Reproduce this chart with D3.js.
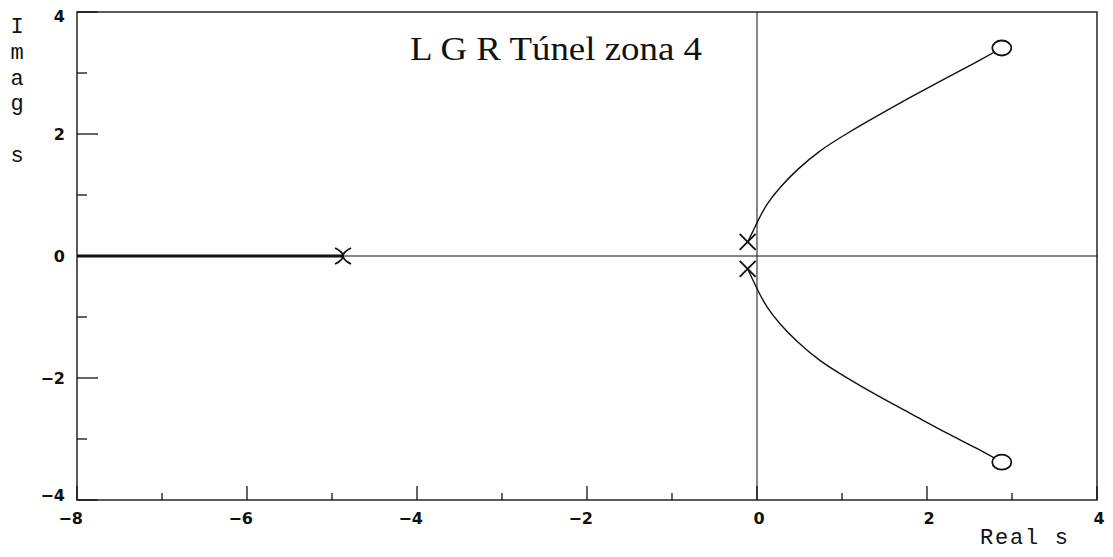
<!DOCTYPE html>
<html>
<head>
<meta charset="utf-8">
<script src="https://cdn.jsdelivr.net/npm/d3@7"></script>
<style>
  html, body { margin: 0; padding: 0; background: #fff; }
  svg { display: block; }
</style>
</head>
<body>
<svg id="chart" width="1113" height="557"></svg>
<script>
// Root locus: open-loop poles, zeros and the two complex branches
const poles = [
  { re: -0.11, im: 0.23, shape: "x" },
  { re: -0.11, im: -0.21, shape: "x" },
  { re: -4.87, im: 0, shape: "arc" }
];
const zeros = [
  { re: 2.88, im: 3.41 },
  { re: 2.88, im: -3.38 }
];
const upperBranch = [
  [-0.11, 0.23], [-0.05, 0.4], [0.02, 0.6], [0.12, 0.85], [0.27, 1.12],
  [0.48, 1.42], [0.74, 1.72], [1.05, 2.0], [1.42, 2.3],
  [1.83, 2.62], [2.23, 2.92], [2.58, 3.18], [2.88, 3.41]
];
const lowerBranch = [
  [-0.11, -0.21], [-0.05, -0.39], [0.02, -0.59], [0.12, -0.84], [0.27, -1.11],
  [0.48, -1.41], [0.74, -1.71], [1.05, -1.99], [1.42, -2.29],
  [1.83, -2.6], [2.23, -2.9], [2.58, -3.15], [2.88, -3.38]
];
// Branch along the negative real axis, from the real pole toward -infinity
const realBranch = [[-8, 0], [-4.87, 0]];

const xMajor = [-8, -6, -4, -2, 0, 2, 4];
const xMinor = [-7, -5, -3, -1, 1, 3];
const yMajor = [-4, -2, 0, 2, 4];
const yMinor = [-3, -1, 1, 3];
const titleText = "L G R Túnel zona 4";
const yAxisTitle = ["I", "m", "a", "g", "", "s"];
const xAxisTitle = "Real s";

const W = 1113, H = 557;
const margin = { left: 77, right: 16, top: 12, bottom: 57 };
const svg = d3.select("#chart");

const x = d3.scaleLinear().domain([-8, 4]).range([margin.left, W - margin.right]);
const y = d3.scaleLinear().domain([-4, 4]).range([H - margin.bottom, margin.top]);
const ink = "#111";

// Plot frame
svg.append("rect")
  .attr("x", x(-8)).attr("y", y(4))
  .attr("width", x(4) - x(-8)).attr("height", y(-4) - y(4))
  .attr("fill", "none").attr("stroke", "#333").attr("stroke-width", 1.6);

// Real and imaginary axes through the origin
svg.append("line")
  .attr("x1", x(-8)).attr("x2", x(4)).attr("y1", y(0)).attr("y2", y(0))
  .attr("stroke", ink).attr("stroke-width", 1.1);
svg.append("line")
  .attr("x1", x(0)).attr("x2", x(0)).attr("y1", y(4)).attr("y2", y(-4))
  .attr("stroke", "#222").attr("stroke-width", 1.1);

// Inward ticks on the left and bottom edges
const yTickG = svg.append("g");
yTickG.selectAll("line.maj").data(yMajor).join("line")
  .attr("x1", x(-8)).attr("x2", x(-8) + 21)
  .attr("y1", d => y(d)).attr("y2", d => y(d))
  .attr("stroke", ink).attr("stroke-width", 1.3);
yTickG.selectAll("line.min").data(yMinor).join("line")
  .attr("x1", x(-8)).attr("x2", x(-8) + 10)
  .attr("y1", d => y(d)).attr("y2", d => y(d))
  .attr("stroke", ink).attr("stroke-width", 1.3);

const xTickG = svg.append("g");
xTickG.selectAll("line.maj").data(xMajor).join("line")
  .attr("x1", d => x(d)).attr("x2", d => x(d))
  .attr("y1", y(-4)).attr("y2", y(-4) - 14)
  .attr("stroke", ink).attr("stroke-width", 1.3);
xTickG.selectAll("line.min").data(xMinor).join("line")
  .attr("x1", d => x(d)).attr("x2", d => x(d))
  .attr("y1", y(-4)).attr("y2", y(-4) - 7)
  .attr("stroke", ink).attr("stroke-width", 1.3);

// Tick labels
const fmt = d3.format("d");
const tickFont = "'DejaVu Sans', sans-serif";
svg.append("g").selectAll("text").data(yMajor).join("text")
  .attr("x", 65)
  .attr("y", d => d === -4 ? y(d) + 1 : d === 4 ? y(d) + 10 : y(d) + 6)
  .attr("text-anchor", "end")
  .attr("font-family", tickFont).attr("font-weight", "bold").attr("font-size", 16)
  .attr("fill", ink)
  .text(d => fmt(d));

svg.append("g").selectAll("text").data(xMajor).join("text")
  .attr("x", d => d < 0 ? x(d) + 6 : x(d) + 2)
  .attr("y", 524)
  .attr("text-anchor", d => d < 0 ? "end" : "middle")
  .attr("font-family", tickFont).attr("font-weight", "bold").attr("font-size", 16)
  .attr("fill", ink)
  .text(d => fmt(d));

// Axis titles
const titleFont = "'Liberation Mono', 'DejaVu Sans Mono', monospace";
svg.append("g").selectAll("text").data(yAxisTitle).join("text")
  .attr("x", 17).attr("y", (d, i) => 33 + i * 25.8)
  .attr("text-anchor", "middle")
  .attr("font-family", titleFont).attr("font-size", 22)
  .attr("fill", ink)
  .text(d => d);

svg.append("text")
  .attr("x", 980).attr("y", 544)
  .attr("textLength", 88).attr("lengthAdjust", "spacing")
  .attr("font-family", titleFont).attr("font-size", 22)
  .attr("fill", ink)
  .text(xAxisTitle);

// Chart title inside the plot
svg.append("text")
  .attr("x", 410).attr("y", 60)
  .attr("textLength", 292).attr("lengthAdjust", "spacingAndGlyphs")
  .attr("font-family", "'Liberation Serif', 'DejaVu Serif', serif")
  .attr("font-size", 34)
  .attr("fill", ink)
  .text(titleText);

// Locus branches
const line = d3.line().x(d => x(d[0])).y(d => y(d[1])).curve(d3.curveNatural);
svg.append("path").datum(realBranch)
  .attr("d", d3.line().x(d => x(d[0])).y(d => y(d[1])))
  .attr("stroke", ink).attr("stroke-width", 3.2).attr("fill", "none");
[upperBranch, lowerBranch].forEach(b => {
  svg.append("path").datum(b)
    .attr("d", line)
    .attr("stroke", ink).attr("stroke-width", 1.4).attr("fill", "none");
});

// Poles
const s = 8;
svg.append("g").selectAll("path").data(poles).join("path")
  .attr("transform", d => `translate(${x(d.re)},${y(d.im)})`)
  .attr("d", d => d.shape === "x"
    ? `M${-s},${-s}L${s},${s}M${-s},${s}L${s},${-s}`
    : `M${-s},${-s}Q${s},0 ${-s},${s}M${s},${-s}Q${-s},0 ${s},${s}`)
  .attr("stroke", ink).attr("stroke-width", 1.8).attr("fill", "none");

// Zeros
svg.append("g").selectAll("ellipse").data(zeros).join("ellipse")
  .attr("cx", d => x(d.re)).attr("cy", d => y(d.im))
  .attr("rx", 9.5).attr("ry", 7.5)
  .attr("stroke", ink).attr("stroke-width", 1.8).attr("fill", "#fff");
</script>
</body>
</html>
